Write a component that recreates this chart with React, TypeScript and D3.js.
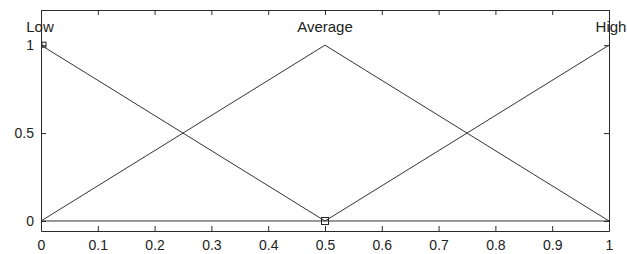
import { useEffect, useRef } from "react";
import * as d3 from "d3";

const xPoints = [0, 0.5, 1];
const lowValues = [1, 0, 0];
const averageValues = [0, 1, 0];
const highValues = [0, 0, 1];
const setNames = ["Low", "Average", "High"];
const setPeaks = [0, 0.5, 1];
const xTicks = [0, 0.1, 0.2, 0.3, 0.4, 0.5, 0.6, 0.7, 0.8, 0.9, 1];
const yTicks = [0, 0.5, 1];

function Chart() {
  const ref = useRef<SVGSVGElement>(null);

  useEffect(() => {
    const w = 627;
    const h = 254;
    const left = 41, right = 609, top = 10, bottom = 231;
    const ink = "#2a2a2a";

    const svg = d3.select(ref.current).attr("width", w).attr("height", h);
    svg.selectAll("*").remove();

    const x = d3.scaleLinear().domain([0, 1]).range([left, right]);
    const y = d3.scaleLinear().domain([-0.057, 1.2]).range([bottom, top]);

    svg.append("rect").attr("width", w).attr("height", h).attr("fill", "#fff");

    const line = d3
      .line<number>()
      .x((d, i) => x(xPoints[i]))
      .y((d) => y(d));

    [lowValues, averageValues, highValues].forEach((vals) => {
      svg
        .append("path")
        .attr("d", line(vals))
        .attr("fill", "none")
        .attr("stroke", "#333")
        .attr("stroke-width", 1);
    });

    // small square markers
    svg
      .append("rect")
      .attr("x", x(0.5) - 3.5)
      .attr("y", y(0) - 3.5)
      .attr("width", 7)
      .attr("height", 7)
      .attr("fill", "none")
      .attr("stroke", "#222");
    svg
      .append("rect")
      .attr("x", x(0) + 1)
      .attr("y", y(1) - 3)
      .attr("width", 4)
      .attr("height", 5)
      .attr("fill", "none")
      .attr("stroke", "#222");

    // axes (box with inward ticks)
    const fmt = (d: d3.NumberValue) => String(+d);
    const bottomAxis = d3.axisBottom(x).tickValues(xTicks).tickSizeInner(-5).tickSizeOuter(0).tickPadding(9).tickFormat(fmt);
    const topAxis = d3.axisTop(x).tickValues(xTicks).tickSizeInner(-5).tickSizeOuter(0).tickFormat(() => "");
    const leftAxis = d3.axisLeft(y).tickValues(yTicks).tickSizeInner(-5).tickSizeOuter(0).tickPadding(7).tickFormat(fmt);
    const rightAxis = d3.axisRight(y).tickValues(yTicks).tickSizeInner(-5).tickSizeOuter(0).tickFormat(() => "");

    const styleAxis = (g: d3.Selection<SVGGElement, unknown, null, undefined>) => {
      g.selectAll("path,line").attr("stroke", ink);
      g.selectAll("text")
        .attr("fill", "#222")
        .style("font-family", "Arial, 'Liberation Sans', sans-serif")
        .style("font-size", "14px");
    };

    svg.append("g").attr("transform", `translate(0,${bottom})`).call(bottomAxis).call(styleAxis);
    svg.append("g").attr("transform", `translate(0,${top})`).call(topAxis).call(styleAxis);
    svg.append("g").attr("transform", `translate(${left},0)`).call(leftAxis).call(styleAxis);
    svg.append("g").attr("transform", `translate(${right},0)`).call(rightAxis).call(styleAxis);

    svg
      .selectAll(".setname")
      .data(setNames)
      .join("text")
      .attr("x", (d, i) => x(setPeaks[i]) - (i === 0 ? 1 : i === 2 ? -2 : 0))
      .attr("y", 32)
      .attr("text-anchor", "middle")
      .attr("fill", "#222")
      .style("font-family", "Arial, 'Liberation Sans', sans-serif")
      .style("font-size", "15px")
      .text((d) => d);
  }, []);

  return <svg ref={ref} style={{ position: "absolute", left: 0, top: 0 }} />;
}

export default function App() {
  return <Chart />;
}
